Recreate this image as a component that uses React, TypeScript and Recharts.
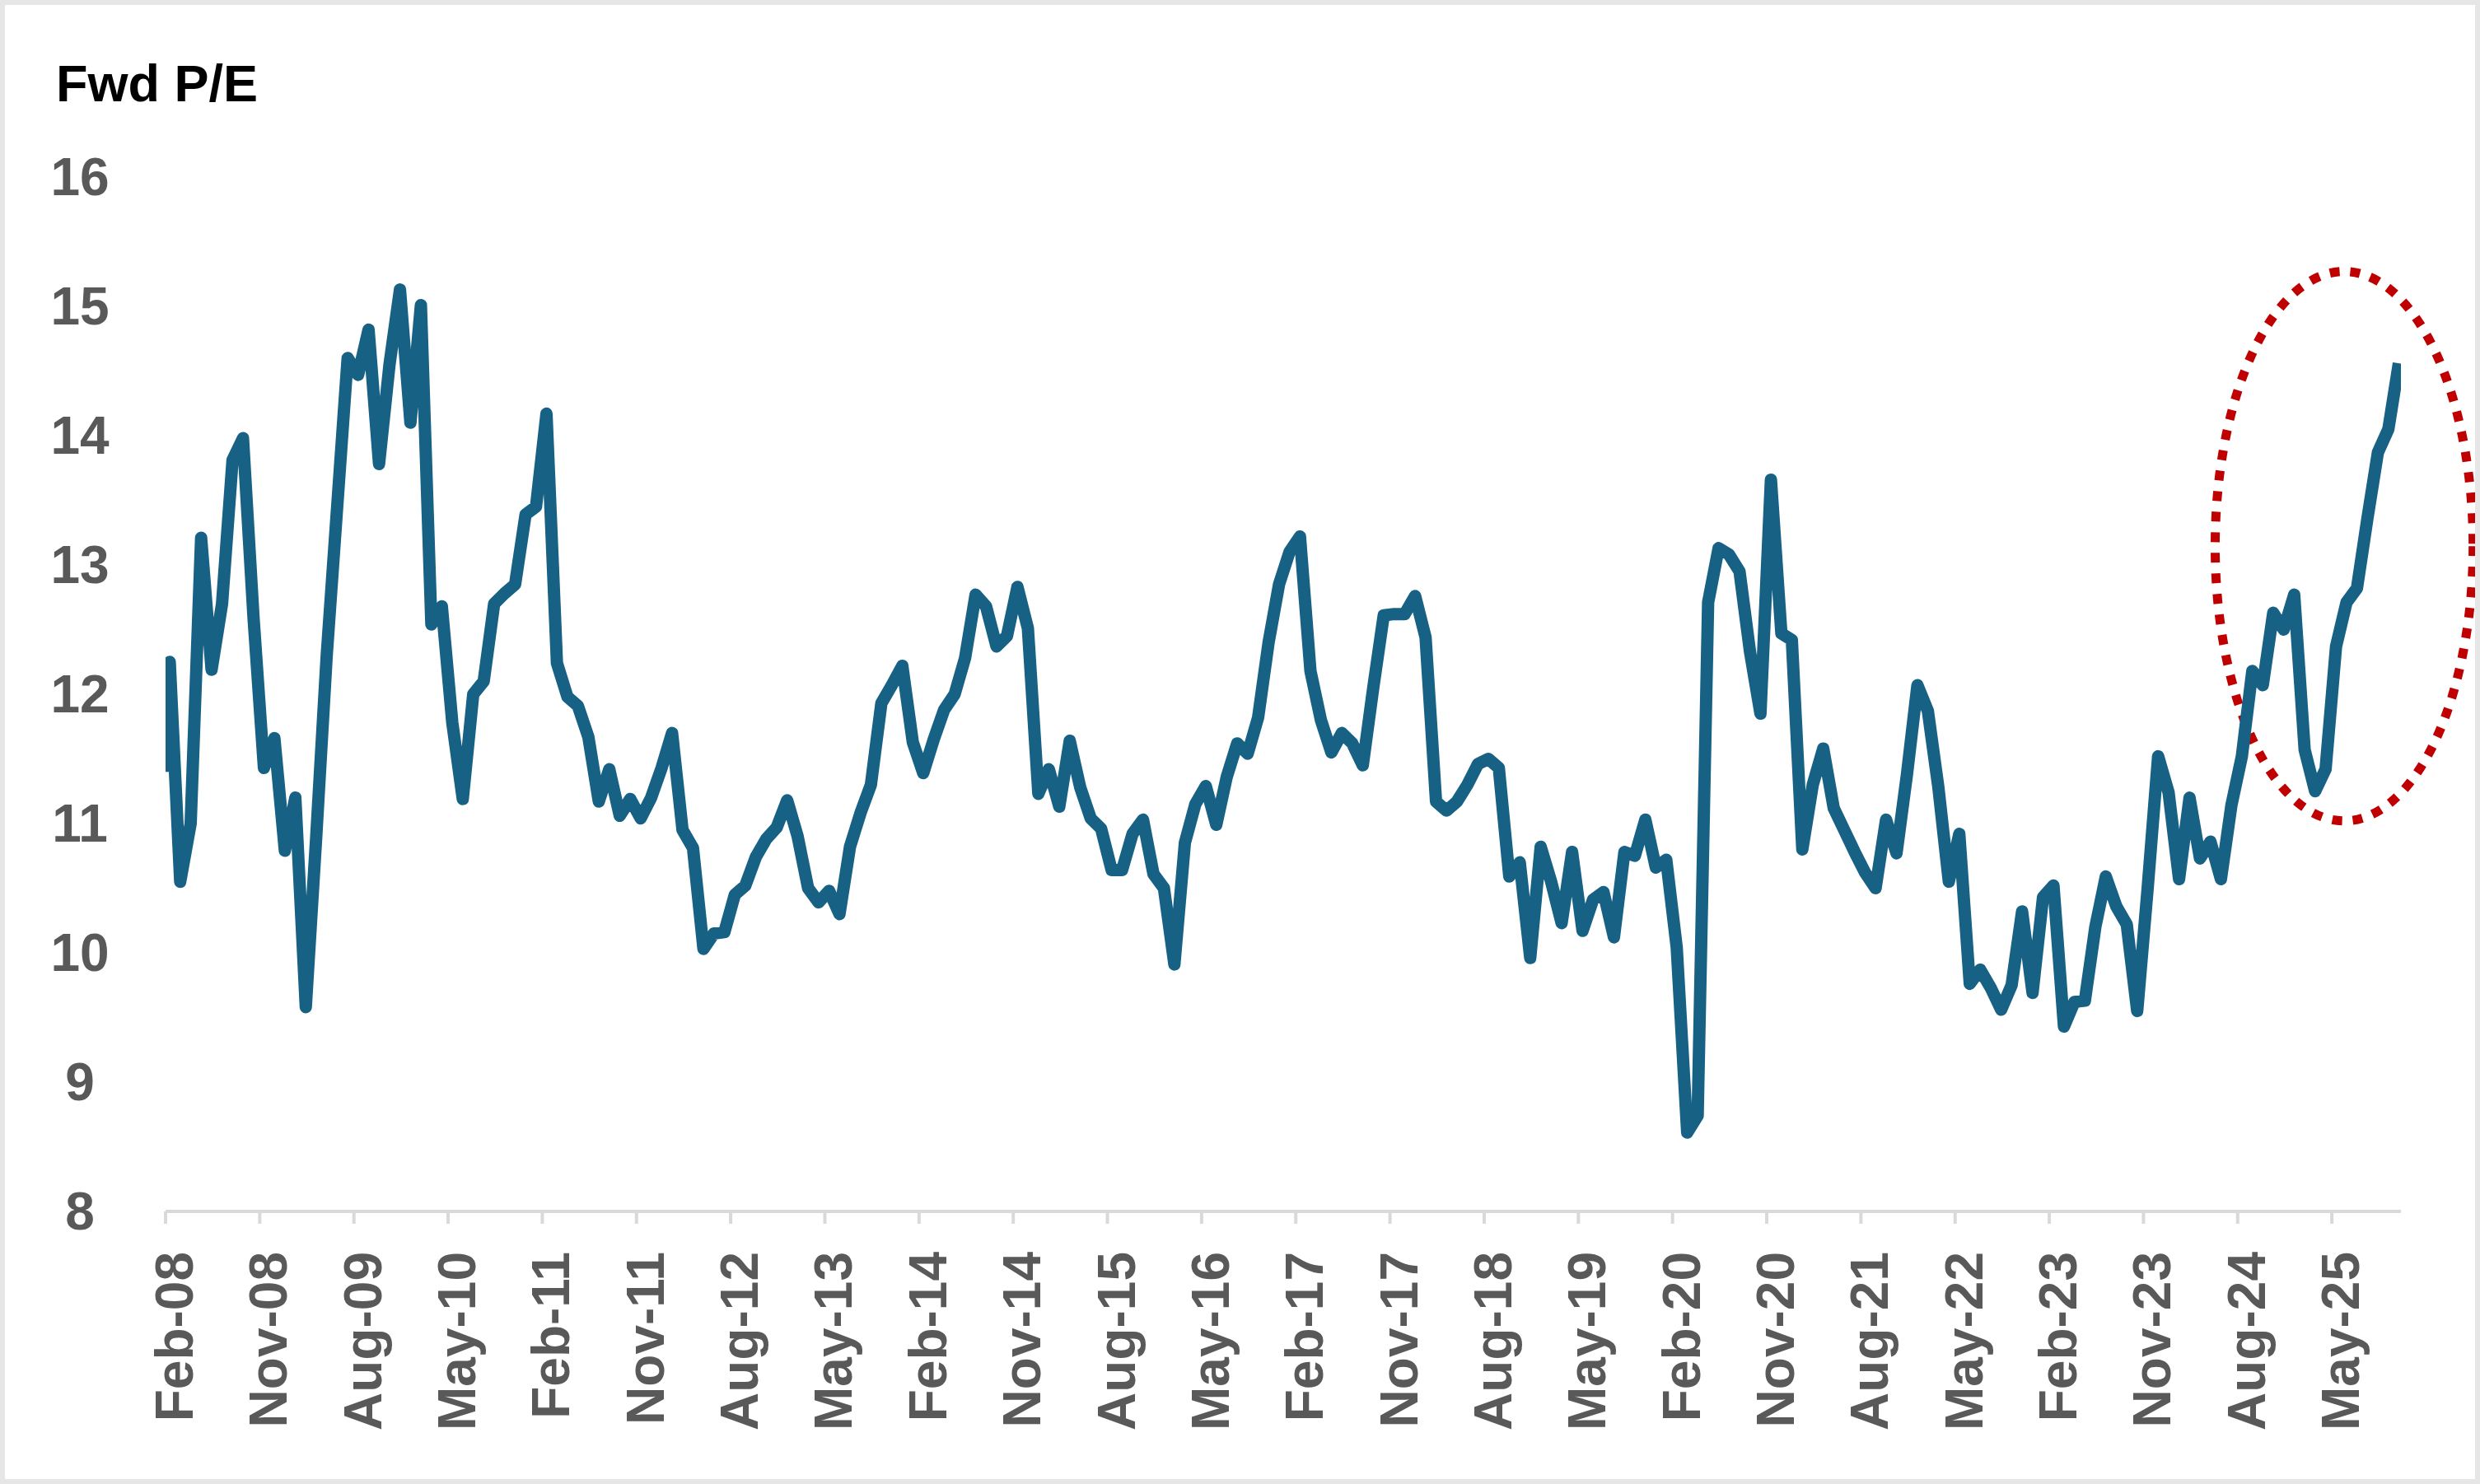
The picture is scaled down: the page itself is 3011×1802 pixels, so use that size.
import { LineChart, Line, XAxis, YAxis, ReferenceArea } from 'recharts';

// tick labels every 9 months, starting Feb-08
const labels = [
  'Feb-08', 'Nov-08', 'Aug-09', 'May-10', 'Feb-11', 'Nov-11', 'Aug-12', 'May-13',
  'Feb-14', 'Nov-14', 'Aug-15', 'May-16', 'Feb-17', 'Nov-17', 'Aug-18', 'May-19',
  'Feb-20', 'Nov-20', 'Aug-21', 'May-22', 'Feb-23', 'Nov-23', 'Aug-24', 'May-25',
];

// first (partial-month) reading, then monthly Fwd P/E from Feb-08 to Nov-25
const firstPe = 11.4;
const pe = [
  12.25, 10.55, 11.0, 13.21, 12.19, 12.7, 13.81, 13.98, 12.6, 11.43,
  11.66, 10.79, 11.2, 9.58, 10.9, 12.3, 13.45, 14.6, 14.47, 14.82,
  13.78, 14.55, 15.13, 14.1, 15.01, 12.54, 12.68, 11.78, 11.19, 12.0,
  12.1, 12.7, 12.78, 12.85, 13.39, 13.45, 14.17, 12.24, 11.98, 11.91,
  11.67, 11.17, 11.42, 11.06, 11.19, 11.04, 11.2, 11.43, 11.7, 10.95,
  10.81, 10.03, 10.15, 10.16, 10.45, 10.52, 10.74, 10.88, 10.97, 11.18,
  10.9, 10.5, 10.39, 10.48, 10.3, 10.82, 11.08, 11.3, 11.93, 12.07,
  12.22, 11.63, 11.39, 11.65, 11.88, 12.0, 12.28, 12.77, 12.68, 12.37,
  12.45, 12.83, 12.51, 11.23, 11.42, 11.13, 11.64, 11.28, 11.04, 10.96,
  10.64, 10.64, 10.92, 11.03, 10.61, 10.5, 9.91, 10.85, 11.15, 11.29,
  10.99, 11.36, 11.62, 11.54, 11.82, 12.4, 12.85, 13.1, 13.22, 12.18,
  11.8, 11.55, 11.7, 11.62, 11.45, 12.05, 12.61, 12.62, 12.62, 12.76,
  12.44, 11.17, 11.1, 11.17, 11.3, 11.46, 11.5, 11.43, 10.59, 10.7,
  9.96, 10.82, 10.55, 10.23, 10.78, 10.17, 10.41, 10.47, 10.12, 10.78,
  10.75, 11.03, 10.66, 10.72, 10.04, 8.61, 8.74, 12.71, 13.13, 13.08,
  12.95, 12.33, 11.85, 13.66, 12.47, 12.42, 10.8, 11.3, 11.58, 11.12,
  10.95, 10.78, 10.62, 10.5, 11.03, 10.77, 11.38, 12.07, 11.87, 11.28,
  10.55, 10.92, 9.76, 9.87, 9.73, 9.56, 9.75, 10.32, 9.69, 10.43,
  10.52, 9.43, 9.62, 9.63, 10.2, 10.59, 10.36, 10.22, 9.55, 10.5,
  11.52, 11.24, 10.57, 11.2, 10.73, 10.86, 10.57, 11.14, 11.52, 12.18,
  12.07, 12.63, 12.5, 12.77, 11.57, 11.25, 11.42, 12.37, 12.71, 12.82,
  13.36, 13.87, 14.05, 14.56,
];

const yTicks = [8, 9, 10, 11, 12, 13, 14, 15, 16];

// t = months since Feb-08 (readings sit a little after the month tick)
const data = [
  { t: 0, pe: firstPe },
  ...pe.map((v, i) => ({ t: i + 0.4, pe: v })),
];
const xTicks = labels.map((_, k) => k * 9);

const FONT = '"Liberation Sans", Arial, sans-serif';
const GREY = '#595959';

const XTick = ({ x, y, payload }: any) => (
  <g transform={`translate(${x + 33},${y + 32})`}>
    <text
      transform="rotate(-90)"
      textAnchor="end"
      fontFamily={FONT}
      fontSize={64}
      fontWeight={700}
      fill={GREY}
    >
      {labels[Math.round(payload.value / 9)]}
    </text>
  </g>
);

const YTick = ({ y, payload }: any) => (
  <text
    x={97}
    y={y}
    dy="0.35em"
    textAnchor="middle"
    fontFamily={FONT}
    fontSize={64}
    fontWeight={700}
    fill={GREY}
  >
    {payload.value}
  </text>
);

const Ellipse = ({ x, y, width, height }: any) => (
  <ellipse
    cx={x + width / 2}
    cy={y + height / 2}
    rx={Math.abs(width / 2)}
    ry={Math.abs(height / 2)}
    fill="none"
    stroke="#c00000"
    strokeWidth={11}
    strokeDasharray="12 13"
  />
);

export default function App() {
  return (
    <div
      style={{
        position: 'absolute',
        left: 0,
        top: 0,
        width: 3011,
        height: 1802,
        background: '#fff',
        overflow: 'hidden',
      }}
    >
      <LineChart
        width={3011}
        height={1802}
        data={data}
        margin={{ top: 215, right: 96, left: 0, bottom: 0 }}
      >
        <XAxis
          dataKey="t"
          type="number"
          domain={[0, 213.6]}
          allowDataOverflow
          ticks={xTicks}
          interval={0}
          height={331}
          tick={<XTick />}
          tickSize={15}
          axisLine={{ stroke: '#d9d9d9', strokeWidth: 4 }}
          tickLine={{ stroke: '#d9d9d9', strokeWidth: 4 }}
        />
        <YAxis
          type="number"
          domain={[8, 16]}
          ticks={yTicks}
          interval={0}
          width={201}
          axisLine={false}
          tickLine={false}
          tick={<YTick />}
        />
        <Line
          type="linear"
          dataKey="pe"
          stroke="#176185"
          strokeWidth={15}
          strokeLinejoin="round"
          strokeLinecap="butt"
          dot={false}
          activeDot={false}
          isAnimationActive={false}
        />
        <ReferenceArea
          x1={195.85}
          x2={220.5}
          y1={11.02}
          y2={15.27}
          ifOverflow="visible"
          shape={<Ellipse />}
        />
      </LineChart>
      <svg
        width={3011}
        height={1802}
        style={{ position: 'absolute', left: 0, top: 0, pointerEvents: 'none' }}
      >
        <text x={68} y={123} fontFamily={FONT} fontSize={63} fontWeight={700} fill="#000">
          Fwd P/E
        </text>
        <rect x={3} y={3} width={3005} height={1796} fill="none" stroke="#e6e6e6" strokeWidth={6} />
      </svg>
    </div>
  );
}
